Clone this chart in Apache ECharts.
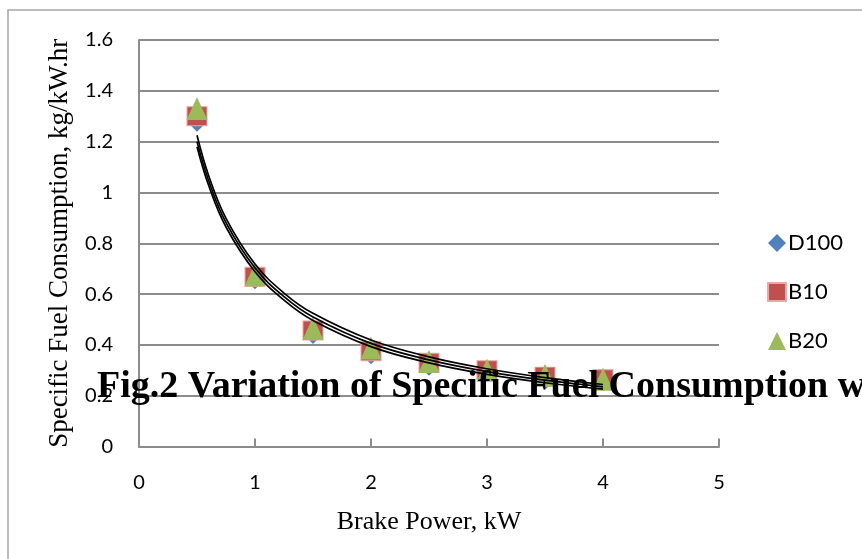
<!DOCTYPE html>
<html><head><meta charset="utf-8">
<script src="https://cdn.jsdelivr.net/npm/echarts@6/dist/echarts.min.js"></script>
<style>html,body{margin:0;padding:0;background:#fff}#c{width:862px;height:559px}</style>
</head><body><div id="c"></div>
<script>
const brakePower = [0.5, 1, 1.5, 2, 2.5, 3, 3.5, 4];
const sfcD100 = [1.27, 0.65, 0.435, 0.355, 0.31, 0.285, 0.255, 0.25];
const sfcB10  = [1.30, 0.668, 0.457, 0.375, 0.33, 0.30, 0.275, 0.265];
const sfcB20  = [1.33, 0.676, 0.464, 0.388, 0.335, 0.30, 0.28, 0.265];
const trendX   = [0.5, 0.6, 0.75, 1, 1.25, 1.5, 2, 2.5, 3, 3.5, 4];
const trendTop = [1.225, 1.067, 0.898, 0.718, 0.604, 0.524, 0.419, 0.353, 0.306, 0.271, 0.244];
const trendMid = [1.20, 1.047, 0.881, 0.703, 0.590, 0.510, 0.406, 0.341, 0.295, 0.261, 0.235];
const trendLow = [1.18, 1.028, 0.864, 0.688, 0.576, 0.496, 0.393, 0.329, 0.284, 0.251, 0.226];
const seriesNames = ['D100', 'B10', 'B20'];
const xTicks = [0, 1, 2, 3, 4, 5];
const titleText = 'Fig.2 Variation of Specific Fuel Consumption w';

const pair = (xs, ys) => xs.map((x, i) => [x, ys[i]]);
const chart = echarts.init(document.getElementById('c'), null, {renderer: 'canvas'});
const tickFont = {fontFamily: 'Lato', fontSize: 20, color: '#000'};
const trendStyle = {color: '#000', width: 1.7};
const trend = (ys) => ({type: 'line', data: pair(trendX, ys), smooth: 0.4, showSymbol: false, symbol: 'none',
  lineStyle: trendStyle, z: 5, silent: true, legendHoverLink: false});
chart.setOption({
  animation: false,
  grid: {left: 139, right: 143, top: 40, bottom: 112.5},
  xAxis: {type: 'value', min: 0, max: 5, interval: 1,
    axisLine: {show: true, lineStyle: {color: '#8c8c8c', width: 2}},
    axisTick: {show: true, inside: true, length: 8, lineStyle: {color: '#8c8c8c', width: 2}},
    splitLine: {show: false},
    axisLabel: Object.assign({margin: 26, formatter: v => xTicks.includes(v) ? String(v) : ''}, tickFont),
    name: 'Brake Power, kW', nameLocation: 'middle', nameGap: 63,
    nameTextStyle: {fontFamily: 'Liberation Serif', fontSize: 26, color: '#000'}},
  yAxis: {type: 'value', min: 0, max: 1.6, interval: 0.2,
    axisLine: {show: true, lineStyle: {color: '#8c8c8c', width: 2}},
    axisTick: {show: false},
    splitLine: {show: true, lineStyle: {color: '#8c8c8c', width: 2}},
    axisLabel: Object.assign({margin: 26, formatter: v => String(Math.round(v * 10) / 10)}, tickFont),
    name: 'Specific Fuel Consumption, kg/kW.hr', nameLocation: 'middle', nameGap: 66,
    nameTextStyle: {fontFamily: 'Liberation Serif', fontSize: 27, color: '#000'}},
  legend: {orient: 'vertical', left: 762, top: 227, itemGap: 27, itemWidth: 18, itemHeight: 18,
    textStyle: {fontFamily: 'Lato', fontSize: 22, color: '#000', padding: [0, 0, 0, -3]},
    data: [{name: 'D100', icon: 'diamond'}, {name: 'B10', icon: 'rect'}, {name: 'B20', icon: 'triangle'}]},
  series: [
    {name: seriesNames[0], type: 'scatter', data: pair(brakePower, sfcD100), symbol: 'diamond', symbolSize: [16, 16],
      itemStyle: {color: '#4F81BD', opacity: 1}, z: 2},
    {name: seriesNames[1], type: 'scatter', data: pair(brakePower, sfcB10), symbol: 'rect', symbolSize: [20, 19],
      itemStyle: {color: '#C0504D', borderColor: '#E8A8A6', borderWidth: 1, opacity: 1}, z: 3},
    {name: seriesNames[2], type: 'scatter', data: pair(brakePower, sfcB20), symbol: 'triangle', symbolSize: [21, 23],
      itemStyle: {color: '#9BBB59', opacity: 1}, z: 4},
    trend(trendTop), trend(trendMid), trend(trendLow)
  ],
  graphic: [
    {type: 'rect', shape: {x: 8, y: 10, width: 900, height: 600}, style: {fill: 'none', stroke: '#a6a6a6', lineWidth: 1.5}, z: 0, silent: true},
    {type: 'text', left: 97, top: 368, z: 100, style: {text: titleText, font: 'bold 38px "Liberation Serif"', fill: '#000'}}
  ]
});
</script></body></html>
